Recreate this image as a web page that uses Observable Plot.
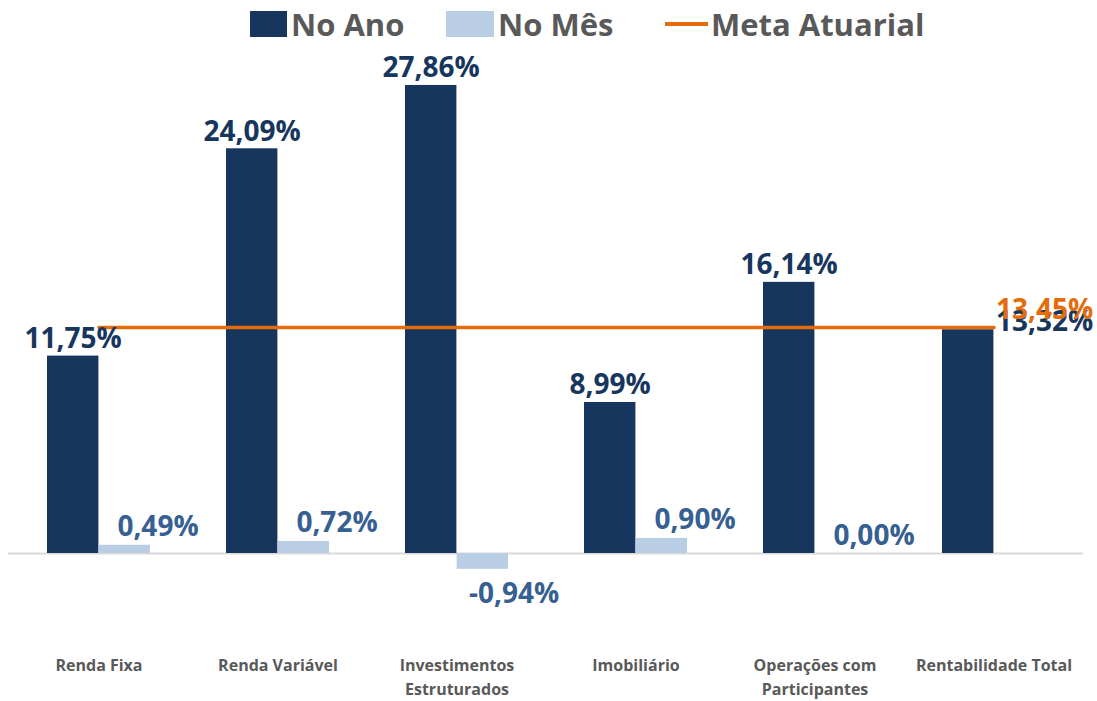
<!DOCTYPE html>
<html><head><meta charset="utf-8">
<script src="https://cdn.jsdelivr.net/npm/d3@7"></script>
<script src="https://cdn.jsdelivr.net/npm/@observablehq/plot@0.6"></script>
<style>
body{margin:0;background:#fff;font-family:"Open Sans",sans-serif;}
#wrap{position:relative;width:1097px;height:701px;}
#legend{position:relative;height:48px;width:1097px;}
.key{position:absolute;top:0;height:48px;display:flex;align-items:center;font-weight:700;font-size:31px;color:#595959;white-space:nowrap;}
.sw{height:26px;margin-right:4px;}
.ln{width:43px;height:3.5px;margin-right:3px;}
</style></head><body>
<div id="wrap"><div id="legend"></div><div id="chart"></div></div>
<script>
const categories = ["Renda Fixa","Renda Variável","Investimentos Estruturados","Imobiliário","Operações com Participantes","Rentabilidade Total"];
const tickLabels = ["Renda Fixa","Renda Variável","Investimentos\nEstruturados","Imobiliário","Operações com\nParticipantes","Rentabilidade Total"];
const noAno = [11.75,24.09,27.86,8.99,16.14,13.32];
const noMes = [0.49,0.72,-0.94,0.90,0.00,null];
const metaAtuarial = [13.45,13.45,13.45,13.45,13.45,13.45];
const seriesNames = ["No Ano","No Mês","Meta Atuarial"];
const colors = ["#17365D","#B9CDE5","#E46C0A"];

const fmt = v => v.toFixed(2).replace(".", ",") + "%";
const rows = categories.map((c,i)=>({cat:c, label:tickLabels[i], ano:noAno[i], mes:noMes[i], meta:metaAtuarial[i]}));
const last = categories[categories.length-1];
const mesRows = rows.filter(d=>d.mes!=null);

// legend
const legend = document.getElementById("legend");
const lefts = [250, 446, 665];
const swW = [37, 48];
seriesNames.forEach((n,i)=>{
  const k = document.createElement("div");
  k.className = "key"; k.style.left = lefts[i] + "px";
  const s = document.createElement("div");
  s.className = i < 2 ? "sw" : "ln";
  if (i < 2) s.style.width = swW[i] + "px";
  s.style.background = colors[i];
  k.appendChild(s);
  const t = document.createElement("span"); t.textContent = n;
  k.appendChild(t);
  legend.appendChild(k);
});

const chart = Plot.plot({
  width: 1097, height: 653,
  marginLeft: 8, marginRight: 14, marginTop: 1, marginBottom: 80.8,
  style: {fontFamily: "'Open Sans', sans-serif", background: "white", overflow: "visible"},
  x: {domain: categories, padding: 0, axis: null},
  y: {domain: [-4, 30], axis: null},
  marks: [
    Plot.ruleY([0], {stroke: "#D9D9D9", strokeWidth: 2}),
    Plot.barY(rows, {x: "cat", y: "ano", fill: colors[0], insetLeft: 38, insetRight: 89.6}),
    Plot.barY(mesRows, {x: "cat", y: "mes", fill: colors[1], insetLeft: 89.6, insetRight: 38}),
    Plot.lineY(rows, {x: "cat", y: "meta", stroke: colors[2], strokeWidth: 3.5}),
    Plot.text(rows.filter(d=>d.cat!==last), {x: "cat", y: "ano", text: d=>fmt(d.ano), dx: -25.8, dy: -8, lineAnchor: "bottom", fontSize: 28, fontWeight: 700, fill: colors[0]}),
    Plot.text(rows.filter(d=>d.cat===last), {x: "cat", y: "ano", text: d=>fmt(d.ano), dx: 2, dy: 1, textAnchor: "start", lineAnchor: "bottom", fontSize: 28, fontWeight: 700, fill: colors[0]}),
    Plot.text(mesRows.filter(d=>d.mes>=0), {x: "cat", y: "mes", text: d=>fmt(d.mes), dx: 59, dy: -9, lineAnchor: "bottom", fontSize: 28, fontWeight: 700, fill: "#376092"}),
    Plot.text(mesRows.filter(d=>d.mes<0), {x: "cat", y: "mes", text: d=>fmt(d.mes), dx: 57, dy: 14, lineAnchor: "top", fontSize: 28, fontWeight: 700, fill: "#376092"}),
    Plot.text(rows.filter(d=>d.cat===last), {x: "cat", y: "meta", text: d=>fmt(d.meta), dx: 2, dy: -9, textAnchor: "start", lineAnchor: "bottom", fontSize: 28, fontWeight: 700, fill: colors[2]}),
    Plot.text(rows, {x: "cat", text: "label", frameAnchor: "bottom", lineAnchor: "top", dy: 33, lineHeight: 1.5, fontSize: 16, fontWeight: 700, fill: "#595959"})
  ]
});
document.getElementById("chart").appendChild(chart);
</script>
</body></html>
